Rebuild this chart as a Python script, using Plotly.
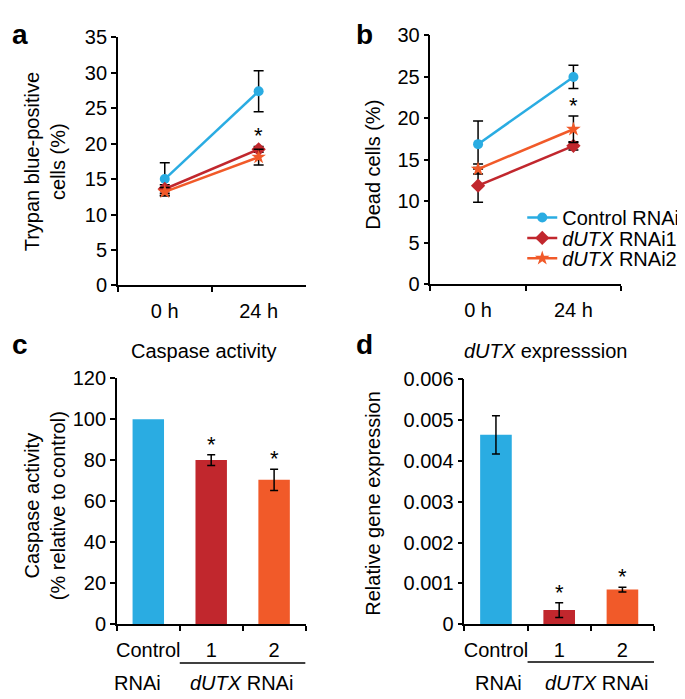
import plotly.graph_objects as go

# ---------------- data ----------------
time_labels = ["0 h", "24 h"]
series_names = ["Control RNAi", "<i>dUTX</i> RNAi1", "<i>dUTX</i> RNAi2"]
series_colors = ["#2AACE2", "#C1272D", "#F15A29"]
series_symbols = ["circle", "diamond", "star"]

trypan_control = [15.0, 27.4]
trypan_control_err = [2.3, 2.9]
trypan_rnai1 = [13.6, 19.2]
trypan_rnai1_err = [0.6, 0.4]
trypan_rnai2 = [13.2, 18.1]
trypan_rnai2_err = [0.6, 1.1]

dead_control = [16.9, 25.0]
dead_control_err = [2.8, 1.4]
dead_rnai1 = [11.9, 16.7]
dead_rnai1_err = [2.0, 0.5]
dead_rnai2 = [13.9, 18.7]
dead_rnai2_err = [0.6, 1.6]

bar_categories = ["Control", "1", "2"]
caspase_activity = [100, 80.1, 70.5]
caspase_err = [None, 2.6, 5.2]   # control is the reference, no error bar
dutx_expression = [0.00464, 0.00035, 0.00085]
dutx_err = [0.00047, 0.00018, 0.00006]

line_sig_index = [1]          # significant time points (panels a, b)
bar_sig_index = [1, 2]        # significant bars (panels c, d)

W, H = 685, 699
FONT = "Liberation Sans, Arial, Helvetica, sans-serif"


def px(x):
    return x / W


def py(y):
    return 1 - y / H


fig = go.Figure()

legend_ids = ["legend", "legend2", "legend3"]

# ---------------- line panels ----------------
line_sets = [
    ("x", "y", [trypan_control, trypan_rnai1, trypan_rnai2],
     [trypan_control_err, trypan_rnai1_err, trypan_rnai2_err], True),
    ("x2", "y2", [dead_control, dead_rnai1, dead_rnai2],
     [dead_control_err, dead_rnai1_err, dead_rnai2_err], False),
]
for xa, ya, vals, errs, show in line_sets:
    for i in range(3):
        fig.add_trace(go.Scatter(
            x=time_labels, y=vals[i], xaxis=xa, yaxis=ya,
            mode="lines+markers", name=series_names[i], showlegend=show,
            legend=legend_ids[i],
            line=dict(color=series_colors[i], width=2.5),
            marker=dict(symbol=series_symbols[i], size=11 if i else 10,
                        color=series_colors[i], line=dict(width=0)),
            error_y=dict(type="data", array=errs[i], visible=True,
                         color="black", thickness=1.5, width=5),
        ))

# ---------------- bar panels ----------------
bar_sets = [("x3", "y3", caspase_activity, caspase_err),
            ("x4", "y4", dutx_expression, dutx_err)]
for xa, ya, vals, errs in bar_sets:
    fig.add_trace(go.Bar(
        x=bar_categories, y=vals, xaxis=xa, yaxis=ya, showlegend=False,
        marker=dict(color=series_colors, line=dict(width=0)),
    ))
    keep = [k for k, e in enumerate(errs) if e is not None]
    fig.add_trace(go.Scatter(
        x=[bar_categories[k] for k in keep], y=[vals[k] for k in keep],
        xaxis=xa, yaxis=ya, mode="markers", showlegend=False, hoverinfo="skip",
        marker=dict(size=1, opacity=0),
        error_y=dict(type="data", array=[errs[k] for k in keep], visible=True,
                     color="black", thickness=1.5, width=4),
    ))

# ---------------- axes ----------------
axis_common = dict(showline=True, linecolor="black", linewidth=1.5,
                   ticks="outside", ticklen=5, tickwidth=1.5, tickcolor="black",
                   showgrid=False, zeroline=False,
                   tickfont=dict(family=FONT, size=20, color="black"))
xcat = dict(type="category", tickson="boundaries", tickangle=0, ticklabelstandoff=7,
            categoryorder="array")

domains = {
    "a": ([px(109), px(297)], [py(275), py(19)]),
    "b": ([px(422), px(613)], [py(274), py(17)]),
    "c": ([px(108), px(297)], [py(625), py(371)]),
    "d": ([px(456), px(646)], [py(625), py(372)]),
}

legend_rows = [205, 226, 247]
legends = {}
for lid, row in zip(legend_ids, legend_rows):
    legends[lid] = dict(x=px(514), y=py(row), xanchor="left", yanchor="middle",
                        bgcolor="rgba(0,0,0,0)", font=dict(family=FONT, size=20, color="black"),
                        itemwidth=30, borderwidth=0)

fig.update_layout(
    xaxis=dict(domain=domains["a"][0], anchor="y", range=[-0.5, 1.5],
               categoryarray=time_labels, **xcat, **axis_common),
    yaxis=dict(domain=domains["a"][1], anchor="x", range=[0, 35], dtick=5, **axis_common),
    xaxis2=dict(domain=domains["b"][0], anchor="y2", range=[-0.5, 1.5],
                categoryarray=time_labels, **xcat, **axis_common),
    yaxis2=dict(domain=domains["b"][1], anchor="x2", range=[0, 30], dtick=5, **axis_common),
    xaxis3=dict(domain=domains["c"][0], anchor="y3", range=[-0.5, 2.5],
                categoryarray=bar_categories, **xcat, **axis_common),
    yaxis3=dict(domain=domains["c"][1], anchor="x3", range=[0, 120], dtick=20, **axis_common),
    xaxis4=dict(domain=domains["d"][0], anchor="y4", range=[-0.5, 2.5],
                categoryarray=bar_categories, **xcat, **axis_common),
    yaxis4=dict(domain=domains["d"][1], anchor="x4", range=[0, 0.006], dtick=0.001, **axis_common),
    bargap=0.5,
    width=W, height=H,
    margin=dict(l=0, r=0, t=0, b=0),
    paper_bgcolor="white", plot_bgcolor="white",
    font=dict(family=FONT, size=20, color="black"),
    **legends,
)

ann = []


def text(x, y, s, size=20, bold=False, angle=0, xanchor="center", yanchor="middle"):
    ann.append(dict(x=x, y=y, xref="paper", yref="paper", text=("<b>%s</b>" % s) if bold else s,
                    showarrow=False, textangle=angle, xanchor=xanchor, yanchor=yanchor,
                    font=dict(family=FONT, size=size, color="black")))


# panel letters
text(px(1), py(16), "a", 28, True, xanchor="left")
text(px(346), py(16), "b", 28, True, xanchor="left")
text(px(1), py(336), "c", 28, True, xanchor="left")
text(px(346), py(336), "d", 28, True, xanchor="left")

# y-axis titles
text(px(36), py(147), "Trypan blue-positive<br>cells (%)", angle=-90)
text(px(365), py(150), "Dead cells (%)", angle=-90)
text(px(36), py(502), "Caspase activity<br>(% relative to control)", angle=-90)
text(px(365), py(500), "Relative gene expression", angle=-90)

# panel titles
text(px(195), py(343), "Caspase activity")
text(px(537), py(343), "<i>dUTX</i> expresssion")

# group labels under bar panels
for cx_rnai, cx_dutx in [(129, 233), (490, 588)]:
    text(px(cx_rnai), py(686), "RNAi")
    text(px(cx_dutx), py(686), "<i>dUTX</i> RNAi")

fig.add_shape(type="line", xref="x3", yref="paper", x0=0.5, x1=2.5,
              y0=py(665), y1=py(665), line=dict(color="black", width=1.5))
fig.add_shape(type="line", xref="x4", yref="paper", x0=0.5, x1=2.5,
              y0=py(664), y1=py(664), line=dict(color="black", width=1.5))

# significance asterisks
for xa, ya, vals, errs, _ in line_sets:
    for k in line_sig_index:
        top = max(vals[i][k] + errs[i][k] for i in (1, 2))
        ann.append(dict(x=time_labels[k], y=top, xref=xa, yref=ya, text="*",
                        showarrow=False, yanchor="bottom", yshift=-4,
                        font=dict(family=FONT, size=22, color="black")))
for xa, ya, vals, errs in bar_sets:
    for k in bar_sig_index:
        ann.append(dict(x=bar_categories[k], y=vals[k] + (errs[k] or 0), xref=xa, yref=ya, text="*",
                        showarrow=False, yanchor="bottom", yshift=-4,
                        font=dict(family=FONT, size=22, color="black")))

fig.update_layout(annotations=ann)
fig.write_html("out.html")
